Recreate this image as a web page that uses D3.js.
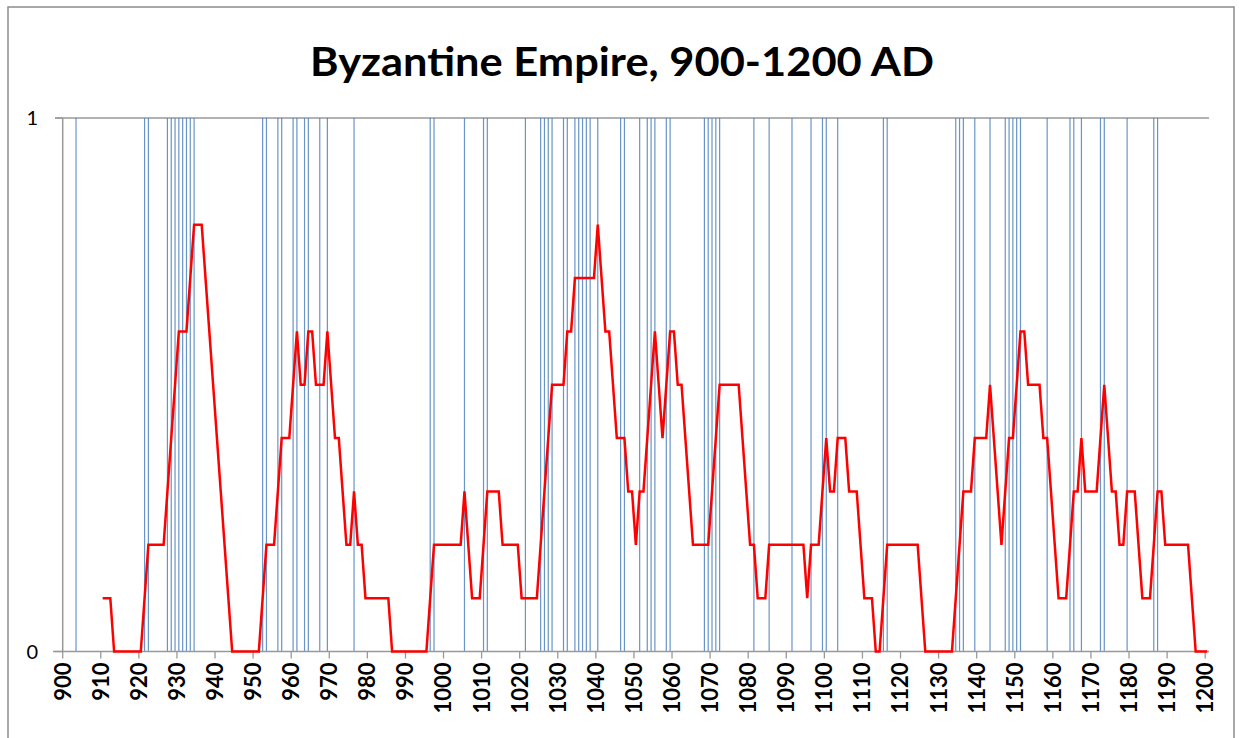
<!DOCTYPE html>
<html>
<head>
<meta charset="utf-8">
<script src="https://cdn.jsdelivr.net/npm/d3@7"></script>
<style>
  html, body { margin: 0; padding: 0; background: #fff; }
  svg { display: block; }
</style>
</head>
<body>
<svg id="chart" width="1239" height="738"></svg>
<script>
// ---- DATA ----
const title = "Byzantine Empire, 900-1200 AD";
const firstYear = 900;
const lastYear = 1200;
const xTickLabels = [900, 910, 920, 930, 940, 950, 960, 970, 980, 990, 1000, 1010, 1020, 1030, 1040, 1050,
  1060, 1070, 1080, 1090, 1100, 1110, 1120, 1130, 1140, 1150, 1160, 1170, 1180, 1190, 1200];
const yTickLabels = [0, 1];

// years with an event (blue vertical lines)
const eventYears = [903, 921, 922, 927, 928, 929, 930, 931, 932, 933, 934, 952, 953, 956, 957, 960, 961,
  963, 964, 967, 969, 976, 996, 997, 1005, 1010, 1011, 1021, 1025, 1026, 1027, 1028, 1031, 1032, 1034,
  1035, 1036, 1037, 1038, 1040, 1046, 1047, 1051, 1053, 1054, 1055, 1058, 1059, 1068, 1069, 1070, 1071,
  1072, 1081, 1085, 1091, 1096, 1099, 1100, 1103, 1115, 1116, 1134, 1135, 1136, 1139, 1143, 1147, 1148,
  1149, 1150, 1151, 1158, 1164, 1165, 1167, 1172, 1173, 1179, 1186, 1187];

// red series, one value per year from 910 to 1200
const redStartYear = 910;
const redValues = [
  0.1, 0.1, 0.1, 0, 0, 0, 0, 0, 0, 0,           // 910
  0, 0.1, 0.2, 0.2, 0.2, 0.2, 0.2, 0.3, 0.4, 0.5, // 920
  0.6, 0.6, 0.6, 0.7, 0.8, 0.8, 0.8, 0.7, 0.6, 0.5, // 930
  0.4, 0.3, 0.2, 0.1, 0, 0, 0, 0, 0, 0,         // 940
  0, 0, 0.1, 0.2, 0.2, 0.2, 0.3, 0.4, 0.4, 0.4,   // 950
  0.5, 0.6, 0.5, 0.5, 0.6, 0.6, 0.5, 0.5, 0.5, 0.6, // 960
  0.5, 0.4, 0.4, 0.3, 0.2, 0.2, 0.3, 0.2, 0.2, 0.1, // 970
  0.1, 0.1, 0.1, 0.1, 0.1, 0.1, 0, 0, 0, 0,     // 980
  0, 0, 0, 0, 0, 0, 0.1, 0.2, 0.2, 0.2,         // 990
  0.2, 0.2, 0.2, 0.2, 0.2, 0.3, 0.2, 0.1, 0.1, 0.1, // 1000
  0.2, 0.3, 0.3, 0.3, 0.3, 0.2, 0.2, 0.2, 0.2, 0.2, // 1010
  0.1, 0.1, 0.1, 0.1, 0.1, 0.2, 0.3, 0.4, 0.5, 0.5, // 1020
  0.5, 0.5, 0.6, 0.6, 0.7, 0.7, 0.7, 0.7, 0.7, 0.7, // 1030
  0.8, 0.7, 0.6, 0.6, 0.5, 0.4, 0.4, 0.4, 0.3, 0.3, // 1040
  0.2, 0.3, 0.3, 0.4, 0.5, 0.6, 0.5, 0.4, 0.5, 0.6, // 1050
  0.6, 0.5, 0.5, 0.4, 0.3, 0.2, 0.2, 0.2, 0.2, 0.2, // 1060
  0.3, 0.4, 0.5, 0.5, 0.5, 0.5, 0.5, 0.5, 0.4, 0.3, // 1070
  0.2, 0.2, 0.1, 0.1, 0.1, 0.2, 0.2, 0.2, 0.2, 0.2, // 1080
  0.2, 0.2, 0.2, 0.2, 0.2, 0.1, 0.2, 0.2, 0.2, 0.3, // 1090
  0.4, 0.3, 0.3, 0.4, 0.4, 0.4, 0.3, 0.3, 0.3, 0.2, // 1100
  0.1, 0.1, 0.1, 0, 0, 0.1, 0.2, 0.2, 0.2, 0.2,   // 1110
  0.2, 0.2, 0.2, 0.2, 0.2, 0.1, 0, 0, 0, 0,     // 1120
  0, 0, 0, 0, 0.1, 0.2, 0.3, 0.3, 0.3, 0.4,     // 1130
  0.4, 0.4, 0.4, 0.5, 0.4, 0.3, 0.2, 0.3, 0.4, 0.4, // 1140
  0.5, 0.6, 0.6, 0.5, 0.5, 0.5, 0.5, 0.4, 0.4, 0.3, // 1150
  0.2, 0.1, 0.1, 0.1, 0.2, 0.3, 0.3, 0.4, 0.3, 0.3, // 1160
  0.3, 0.3, 0.4, 0.5, 0.4, 0.3, 0.3, 0.2, 0.2, 0.3, // 1170
  0.3, 0.3, 0.2, 0.1, 0.1, 0.1, 0.2, 0.3, 0.3, 0.2, // 1180
  0.2, 0.2, 0.2, 0.2, 0.2, 0.2, 0.1, 0, 0, 0,   // 1190
  0                                              // 1200
];

// ---- LAYOUT ----
const W = 1239, H = 738;
const plot = { left: 62.7, right: 1209, top: 118, bottom: 651.5 };

const svg = d3.select("#chart");

// outer chart border
svg.append("rect")
  .attr("x", 8).attr("y", 7)
  .attr("width", 1226).attr("height", 760)
  .attr("fill", "#fff")
  .attr("stroke", "#8c8c8c")
  .attr("stroke-width", 1.5);

const years = d3.range(firstYear, lastYear + 1);
const x = d3.scaleBand().domain(years).range([plot.left, plot.right]).paddingInner(0).paddingOuter(0);
const bw = x.bandwidth();
const cx = yr => x(yr) + bw / 2;
const y = d3.scaleLinear().domain([0, 1]).range([plot.bottom, plot.top]);

// title
svg.append("text")
  .attr("x", 622).attr("y", 76)
  .attr("text-anchor", "middle")
  .attr("font-family", "Lato, 'Open Sans', sans-serif")
  .attr("font-weight", "bold")
  .attr("font-size", 40)
  .attr("textLength", 624)
  .attr("lengthAdjust", "spacingAndGlyphs")
  .attr("fill", "#000")
  .text(title);

// horizontal gridline at 1
svg.append("line")
  .attr("x1", 55).attr("x2", plot.right)
  .attr("y1", y(1)).attr("y2", y(1))
  .attr("stroke", "#999").attr("stroke-width", 1.3);

// blue event lines
svg.append("g").selectAll("line")
  .data(eventYears)
  .join("line")
  .attr("x1", d => cx(d)).attr("x2", d => cx(d))
  .attr("y1", y(1)).attr("y2", y(0))
  .attr("stroke", "#4f81bd")
  .attr("stroke-opacity", 0.85)
  .attr("stroke-width", 1.2);

// y axis line and ticks
svg.append("line")
  .attr("x1", plot.left).attr("x2", plot.left)
  .attr("y1", y(1)).attr("y2", y(0))
  .attr("stroke", "#999").attr("stroke-width", 1.5);
svg.append("g").selectAll("line")
  .data(yTickLabels)
  .join("line")
  .attr("x1", 55).attr("x2", plot.left)
  .attr("y1", d => y(d)).attr("y2", d => y(d))
  .attr("stroke", "#999").attr("stroke-width", 1.3);
svg.append("g").selectAll("text")
  .data(yTickLabels)
  .join("text")
  .attr("x", 38).attr("y", d => y(d))
  .attr("dy", "0.36em")
  .attr("text-anchor", "end")
  .attr("font-family", "Lato, 'Open Sans', sans-serif")
  .attr("font-size", 20)
  .attr("fill", "#000")
  .text(d => d);

// x axis line
svg.append("line")
  .attr("x1", 53).attr("x2", plot.right)
  .attr("y1", y(0)).attr("y2", y(0))
  .attr("stroke", "#999").attr("stroke-width", 1.5);

// x ticks at category boundaries
svg.append("g").selectAll("line")
  .data(xTickLabels)
  .join("line")
  .attr("x1", d => x(d)).attr("x2", d => x(d))
  .attr("y1", y(0)).attr("y2", y(0) + 7)
  .attr("stroke", "#999").attr("stroke-width", 1.3);

svg.append("g").selectAll("text")
  .data(xTickLabels)
  .join("text")
  .attr("transform", d => `translate(${x(d)},${y(0) + 11}) rotate(-90)`)
  .attr("dy", "0.36em")
  .attr("text-anchor", "end")
  .attr("font-family", "Lato, 'Open Sans', sans-serif")
  .attr("font-weight", "bold")
  .attr("font-size", 22)
  .attr("fill", "#000")
  .text(d => d);

// red line
const redData = redValues.map((v, i) => ({ year: redStartYear + i, value: v }));
svg.append("path")
  .datum(redData)
  .attr("fill", "none")
  .attr("stroke", "#ff0000")
  .attr("stroke-width", 2.5)
  .attr("stroke-linejoin", "miter")
  .attr("d", d3.line().x(d => cx(d.year)).y(d => y(d.value)));
</script>
</body>
</html>
